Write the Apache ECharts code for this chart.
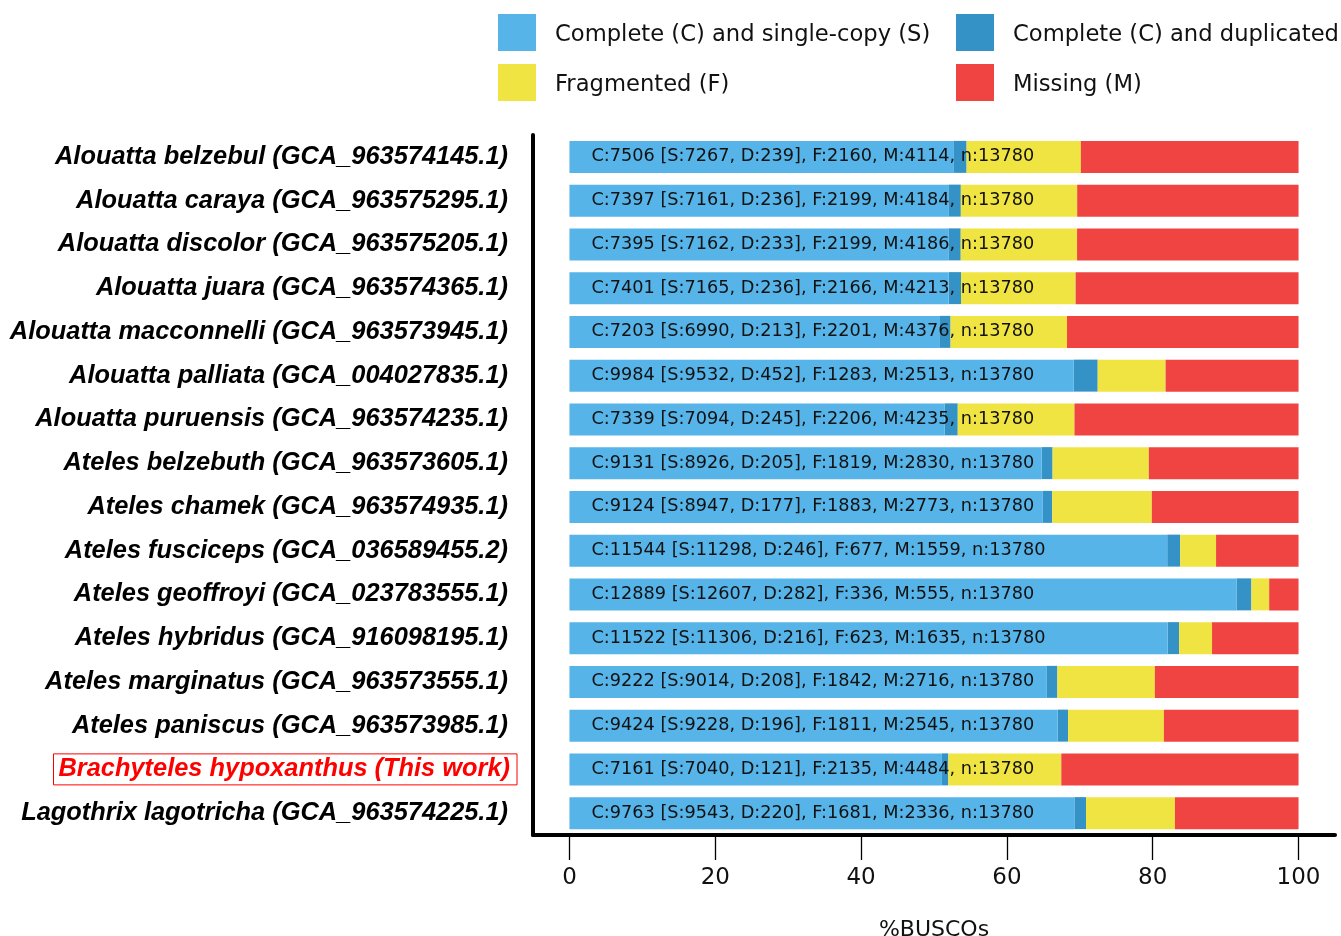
<!DOCTYPE html>
<html>
<head>
<meta charset="utf-8">
<script src="https://cdn.jsdelivr.net/npm/echarts@6/dist/echarts.min.js"></script>
<style>
html,body{margin:0;padding:0;background:#fff;}
#chart{width:1341px;height:936px;}
</style>
</head>
<body>
<div id="chart"></div>
<script>
const species = [
  'Alouatta belzebul (GCA_963574145.1)',
  'Alouatta caraya (GCA_963575295.1)',
  'Alouatta discolor (GCA_963575205.1)',
  'Alouatta juara (GCA_963574365.1)',
  'Alouatta macconnelli (GCA_963573945.1)',
  'Alouatta palliata (GCA_004027835.1)',
  'Alouatta puruensis (GCA_963574235.1)',
  'Ateles belzebuth (GCA_963573605.1)',
  'Ateles chamek (GCA_963574935.1)',
  'Ateles fusciceps (GCA_036589455.2)',
  'Ateles geoffroyi (GCA_023783555.1)',
  'Ateles hybridus (GCA_916098195.1)',
  'Ateles marginatus (GCA_963573555.1)',
  'Ateles paniscus (GCA_963573985.1)',
  'Brachyteles hypoxanthus (This work)',
  'Lagothrix lagotricha (GCA_963574225.1)'
];
const singleCopy = [7267, 7161, 7162, 7165, 6990, 9532, 7094, 8926, 8947, 11298, 12607, 11306, 9014, 9228, 7040, 9543];
const duplicated = [239, 236, 233, 236, 213, 452, 245, 205, 177, 246, 282, 216, 208, 196, 121, 220];
const fragmented = [2160, 2199, 2199, 2166, 2201, 1283, 2206, 1819, 1883, 677, 336, 623, 1842, 1811, 2135, 1681];
const missing = [4114, 4184, 4186, 4213, 4376, 2513, 4235, 2830, 2773, 1559, 555, 1635, 2716, 2545, 4484, 2336];
const totalBuscos = 13780;
const xTicks = [0, 20, 40, 60, 80, 100];
const highlighted = 'Brachyteles hypoxanthus (This work)';
const seriesNames = ['Complete (C) and single-copy (S)', 'Complete (C) and duplicated (D)', 'Fragmented (F)', 'Missing (M)'];
const colors = ['#56B4E9', '#3492C7', '#F0E442', '#F04442'];

const pct = arr => arr.map(v => v / totalBuscos * 100);
const labelText = i => {
  const c = singleCopy[i] + duplicated[i];
  return 'C:' + c + ' [S:' + singleCopy[i] + ', D:' + duplicated[i] + '], F:' + fragmented[i] + ', M:' + missing[i] + ', n:' + totalBuscos;
};

const chart = echarts.init(document.getElementById('chart'), null, {renderer: 'canvas'});
const legendText = {fontFamily: 'DejaVu Sans', fontSize: 22.65, color: '#111'};
const makeLegend = (left, names) => ({
  left: left, top: 14, padding: 0, orient: 'vertical', itemWidth: 38, itemHeight: 37, itemGap: 13, icon: 'rect',
  data: names,
  formatter: n => '{a|' + n + '}',
  textStyle: Object.assign({rich: {a: Object.assign({padding: [6, 0, 0, 14]}, legendText)}}, legendText)
});
const option = {
  backgroundColor: '#fff',
  animation: false,
  legend: [
    makeLegend(498, [seriesNames[0], seriesNames[2]]),
    makeLegend(956, [seriesNames[1], seriesNames[3]])
  ],
  grid: {left: 533, right: 6, top: 135, bottom: 101, containLabel: false, outerBoundsMode: 'none'},
  xAxis: {
    type: 'value', min: -5, max: 105,
    splitLine: {show: false},
    axisLine: {show: true, onZero: false, lineStyle: {color: '#000', width: 4}},
    axisTick: {show: true, customValues: xTicks, length: 25, lineStyle: {color: '#000', width: 1.3}},
    axisLabel: {customValues: xTicks, fontFamily: 'DejaVu Sans', fontSize: 23, color: '#111', margin: 32},
    name: '%BUSCOs', nameLocation: 'middle', nameGap: 84,
    nameTextStyle: {fontFamily: 'DejaVu Sans', fontSize: 22, color: '#111'}
  },
  yAxis: {
    type: 'category', inverse: true, data: species,
    axisLine: {show: true, onZero: false, lineStyle: {color: '#000', width: 4}},
    axisTick: {show: false},
    axisLabel: {
      margin: 16,
      formatter: v => (v === highlighted ? '{h|' + v + '}' : '{n|' + v + '}'),
      rich: {
        n: {fontFamily: 'Liberation Sans', fontWeight: 'bold', fontStyle: 'italic', fontSize: 25.4, color: '#000', padding: [3, 9, 3, 7]},
        h: {fontFamily: 'Liberation Sans', fontWeight: 'bold', fontStyle: 'italic', fontSize: 25.4, color: '#ff0000', borderColor: '#ff0000', borderWidth: 1, padding: [3, 7, 3, 5]}
      }
    }
  },
  series: [
    {
      name: seriesNames[0], type: 'bar', stack: 'busco', barWidth: 32, z: 3,
      itemStyle: {color: colors[0]},
      data: pct(singleCopy),
      label: {
        show: true, position: 'insideLeft', distance: 22,
        fontFamily: 'DejaVu Sans', fontSize: 17.7, color: '#111',
        formatter: p => labelText(p.dataIndex)
      }
    },
    {name: seriesNames[1], type: 'bar', stack: 'busco', barWidth: 32, itemStyle: {color: colors[1]}, data: pct(duplicated)},
    {name: seriesNames[2], type: 'bar', stack: 'busco', barWidth: 32, itemStyle: {color: colors[2]}, data: pct(fragmented)},
    {name: seriesNames[3], type: 'bar', stack: 'busco', barWidth: 32, itemStyle: {color: colors[3]}, data: pct(missing)}
  ]
};
chart.setOption(option);
</script>
</body>
</html>
